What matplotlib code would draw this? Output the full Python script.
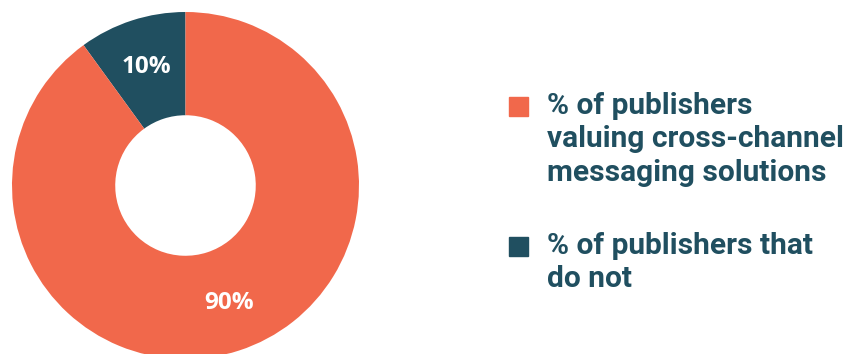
import matplotlib
matplotlib.use("Agg")
import matplotlib.pyplot as plt
import numpy as np
from matplotlib.patches import Rectangle

# share of publishers, drawn counter-clockwise from 12 o'clock
shares = [10, 90]
share_labels = ["10%", "90%"]
colors = ["#204F60", "#F1684B"]

legend_labels = [
    "% of publishers\nvaluing cross-channel\nmessaging solutions",
    "% of publishers that\ndo not",
]
legend_colors = ["#F1684B", "#204F60"]

W, H = 849, 354
fig = plt.figure(figsize=(W / 100, H / 100), dpi=100)

# donut axes: centre (185, 185) px, outer radius ~173.5 px
cx, cy, r = 185.5, 185.5, 173.5
ax = fig.add_axes([(cx - r) / W, (H - cy - r) / H, 2 * r / W, 2 * r / H])
wedges, _ = ax.pie(
    shares, colors=colors, startangle=90, counterclock=True,
    radius=1.0, wedgeprops=dict(width=0.595, linewidth=0),
)
ax.set_xlim(-1, 1)
ax.set_ylim(-1, 1)
ax.set_aspect("equal")
ax.axis("off")

start = 90.0
for val, lab in zip(shares, share_labels):
    mid = np.deg2rad(start + val * 3.6 / 2 + (2.5 if val > 50 else 0))
    ax.text(0.72 * np.cos(mid), 0.72 * np.sin(mid), lab,
            ha="center", va="center", color="white", fontsize=17.5,
            fontweight="bold", family="Open Sans")
    start += val * 3.6

# legend drawn by hand: square marker + wrapped bold label
tops = [97, 237]
for top, lab, col in zip(tops, legend_labels, legend_colors):
    fig.patches.append(Rectangle((509 / W, 1 - (top + 19) / H), 19 / W, 19 / H,
                                 transform=fig.transFigure, color=col))
    fig.text(547 / W, 1 - (top - 5) / H, lab, ha="left", va="top",
             fontsize=21.5, fontweight="bold", color="#204F60",
             family="Roboto", linespacing=1.24)

fig.savefig("out.png", dpi=100)
